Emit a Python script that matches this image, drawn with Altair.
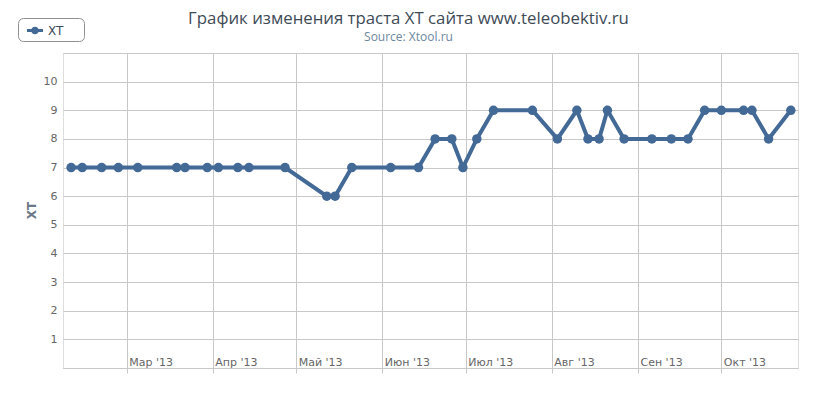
import altair as alt
import pandas as pd

# ---- data ----
dates = [
    "2013-02-09", "2013-02-13", "2013-02-20", "2013-02-26", "2013-03-05",
    "2013-03-19", "2013-03-22", "2013-03-30", "2013-04-03", "2013-04-10",
    "2013-04-14", "2013-04-27", "2013-05-12", "2013-05-15", "2013-05-21",
    "2013-06-04", "2013-06-14", "2013-06-20", "2013-06-26", "2013-06-30",
    "2013-07-05", "2013-07-11", "2013-07-25", "2013-08-03", "2013-08-10",
    "2013-08-14", "2013-08-18", "2013-08-21", "2013-08-27", "2013-09-06",
    "2013-09-13", "2013-09-19", "2013-09-25", "2013-10-01", "2013-10-09",
    "2013-10-12", "2013-10-18", "2013-10-26",
]
xt_values = [
    7, 7, 7, 7, 7,
    7, 7, 7, 7, 7,
    7, 7, 6, 6, 7,
    7, 7, 8, 8, 7,
    8, 9, 9, 8, 9,
    8, 8, 9, 8, 8,
    8, 8, 9, 9, 9,
    9, 8, 9,
]
series_names = ["XT"]
month_names = ["Янв", "Фев", "Мар", "Апр", "Май", "Июн", "Июл", "Авг", "Сен", "Окт", "Ноя", "Дек"]
tick_months = [3, 4, 5, 6, 7, 8, 9, 10]
y_ticks = list(range(0, 12))

title_text = "График изменения траста XT сайта www.teleobektiv.ru"
subtitle_text = "Source: Xtool.ru"

df = pd.DataFrame({
    "date": [d + "T00:00:00" for d in dates],
    "value": xt_values,
    "series": [series_names[0]] * len(dates),
})

line_color = "#436996"
grid_color = "#C8C8C8"

month_arr = "[" + ",".join("'" + m + "'" for m in month_names) + "]"

x_enc = alt.X(
    "date:T",
    scale=alt.Scale(domain=[alt.DateTime(year=2013, month=2, date=6, hours=2),
                            alt.DateTime(year=2013, month=10, date=28, hours=14)]),
    axis=alt.Axis(
        title=None,
        values=[alt.DateTime(year=2013, month=m, date=1) for m in tick_months],
        labelExpr=month_arr + "[month(datum.value)] + \" '13\"",
        labelAlign="left",
        labelBaseline="alphabetic",
        labelPadding=-8,
        labelOffset=2,
        labelFlush=False,
        labelFont="DejaVu Sans",
        labelFontSize=11,
        labelColor="#666666",
        tickSize=5,
        tickColor=grid_color,
        domainColor=grid_color,
        grid=True,
        gridColor=grid_color,
    ),
)

y_enc = alt.Y(
    "value:Q",
    scale=alt.Scale(domain=[0, 11], nice=False, zero=True),
    axis=alt.Axis(
        title="XT",
        titleFont="DejaVu Sans",
        titleFontSize=12,
        titleFontWeight="bold",
        titleColor="#6A7888",
        titleX=-32,
        titleY=157,
        titleAlign="center",
        titleBaseline="middle",
        values=y_ticks,
        labelExpr="datum.value >= 1 && datum.value <= 10 ? datum.label : ''",
        labelFont="DejaVu Sans",
        labelFontSize=11,
        labelColor="#666666",
        labelPadding=6,
        ticks=False,
        domain=False,
        grid=True,
        gridColor=grid_color,
    ),
)

legend_symbol = (
    "M-0.4375,-0.2 L1.5625,-0.2 L1.5625,0.2 L-0.4375,0.2 Z "
    "M0.0875,0 A0.475,0.475 0 1,1 1.0375,0 A0.475,0.475 0 1,1 0.0875,0 Z"
)

base = alt.Chart(df)

line = base.mark_line(color=line_color, strokeWidth=4).encode(x=x_enc, y=y_enc)

points = base.mark_point(filled=True, opacity=1, size=90, shape="circle").encode(
    x=x_enc,
    y=y_enc,
    color=alt.Color(
        "series:N",
        scale=alt.Scale(domain=series_names, range=[line_color]),
        legend=alt.Legend(
            title="\u00a0",
            titleOrient="right",
            titlePadding=16,
            titleFontSize=4,
            orient="none",
            legendX=-45,
            legendY=-35,
            padding=4.5,
            strokeColor="#909090",
            cornerRadius=5,
            fillColor="white",
            symbolType=legend_symbol,
            symbolSize=256,
            symbolStrokeWidth=0,
            labelOffset=9.5,
            labelFont="DejaVu Sans",
            labelFontSize=12,
            labelColor="#3E4B58",
        ),
    ),
)

chart = (
    alt.layer(line, points)
    .properties(
        width=735,
        height=315,
        autosize=alt.AutoSizeParams(type="none"),
        padding={"left": 63, "top": 53, "right": 41, "bottom": 31},
        title=alt.TitleParams(
            text=title_text,
            subtitle=subtitle_text,
            anchor="middle",
            dx=-22,
            dy=39,
            offset=14,
            font="Open Sans",
            fontSize=16.8,
            fontWeight="normal",
            color="#3E4A56",
            subtitleFont="Open Sans",
            subtitleFontSize=12,
            subtitleColor="#6D869F",
            subtitlePadding=4,
        ),
    )
    .configure_view(stroke=None)
    .configure(background="white")
)

chart.save("out.html", embed_options={"renderer": "svg", "actions": False})
